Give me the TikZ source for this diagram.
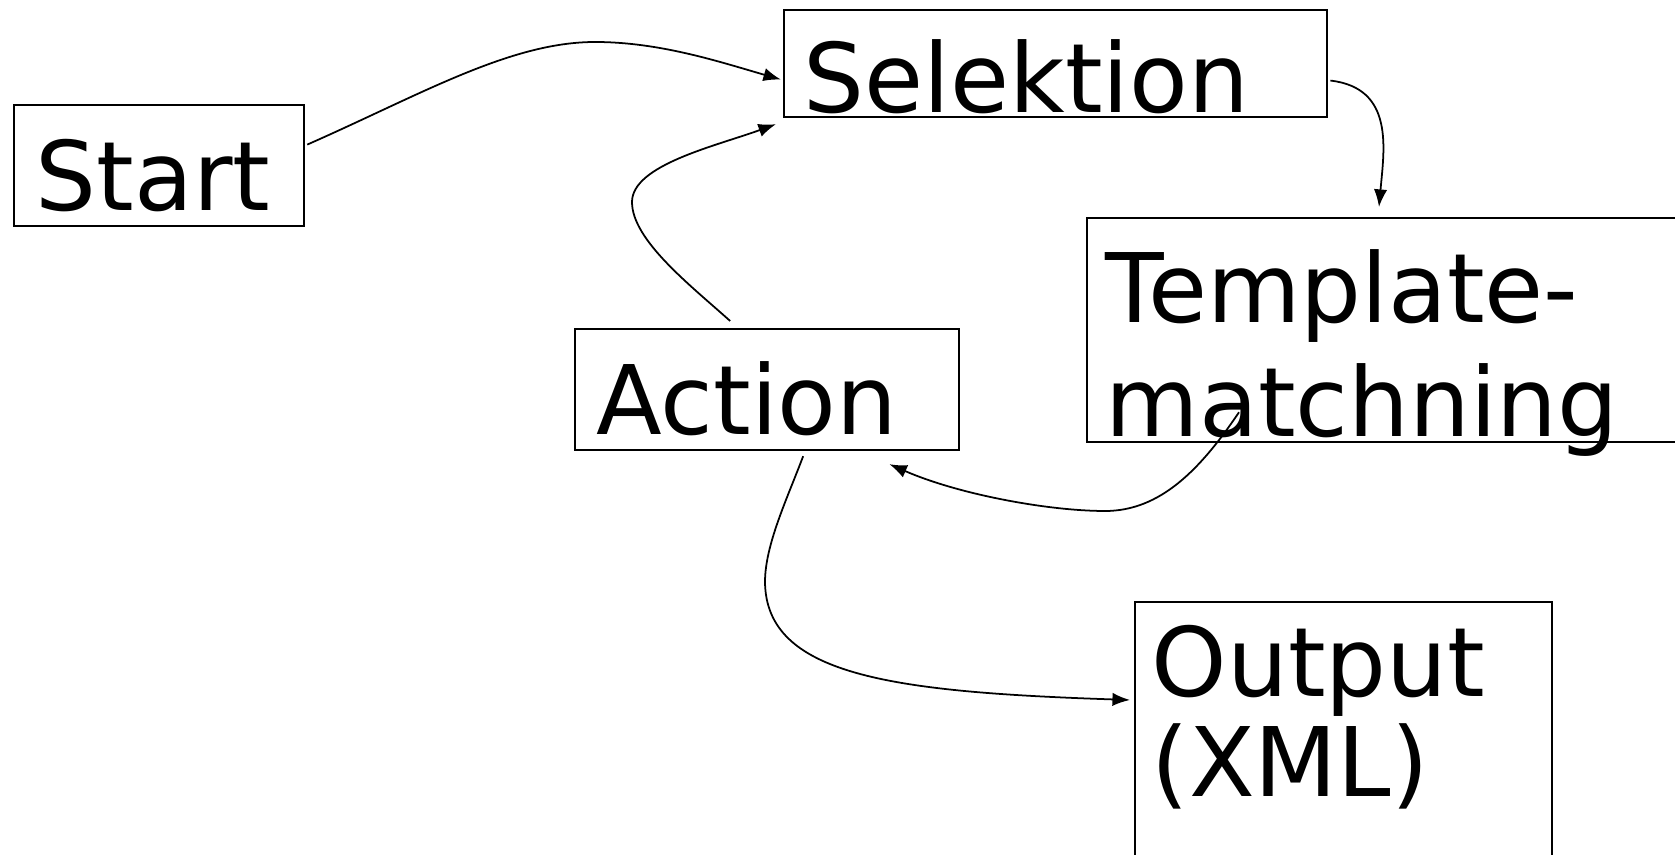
\documentclass[tikz,border=0pt]{standalone}
\usepackage{fontspec}
\setmainfont{DejaVu Sans}
\usetikzlibrary{arrows.meta,calc}
\tikzset{
  box/.style={draw, line width=0.6pt, inner sep=0pt, anchor=north west},
  word/.style={inner sep=0pt, anchor=base west, align=left, font=\fontsize{27.3}{32}\selectfont},
  flow/.style={line width=0.5pt, -{Latex[length=5pt,width=3.8pt]}}
}
\begin{document}
\begin{tikzpicture}[x=0.01cm, y=-0.01cm]
  \useasboundingbox (0,0) rectangle (1675,855);
  \node[box, minimum width=2.90cm, minimum height=1.21cm] (start) at (13,104) {};
  \node[box, minimum width=5.43cm, minimum height=1.07cm] (sel) at (783,9) {};
  \node[box, minimum width=6.40cm, minimum height=2.24cm] (tmpl) at (1086,217) {};
  \node[box, minimum width=3.84cm, minimum height=1.21cm] (act) at (574,328) {};
  \node[box, minimum width=4.17cm, minimum height=3.00cm] (out) at (1134,601) {};
  \node[word] (start-t) at (35,211) {Start};
  \node[word] (sel-t) at (803,113) {Selektion};
  \node[word, font=\fontsize{27.3}{32.7}\selectfont] (tmpl-t) at (1105,437) {Template-\\matchning};
  \node[word] (act-t) at (596,435) {Action};
  \node[word, font=\fontsize{27.3}{28.7}\selectfont] (out-t) at (1151,797) {Output\\(XML)};
  \draw[flow] ($(start.east)+(2,-21)$) .. controls (420,95) and (510,42) .. (595,42)
    .. controls (660,42) and (720,62) .. ($(sel.west)+(-2,16)$);
  \draw[flow] ($(act.north)+(-37,-7)$) .. controls (690,285) and (632,240) .. (632,202)
    .. controls (632,165) and (716,146) .. ($(sel.south west)+(-7,6)$);
  \draw[flow] ($(sel.east)+(2,17)$) .. controls (1395,88) and (1384,150) .. ($(tmpl.north west)+(293,-10)$);
  \draw[flow] ($(tmpl.south west)+(153,-31)$) .. controls (1200,470) and (1160,511) .. (1105,511)
    .. controls (1050,511) and (960,495) .. ($(act.south east)+(-71,13)$);
  \draw[flow] ($(act.south)+(36,5)$) .. controls (787,499) and (765,545) .. (765,582)
    .. controls (766,675) and (890,692) .. ($(out.north west)+(-4,99)$);
\end{tikzpicture}
\end{document}
